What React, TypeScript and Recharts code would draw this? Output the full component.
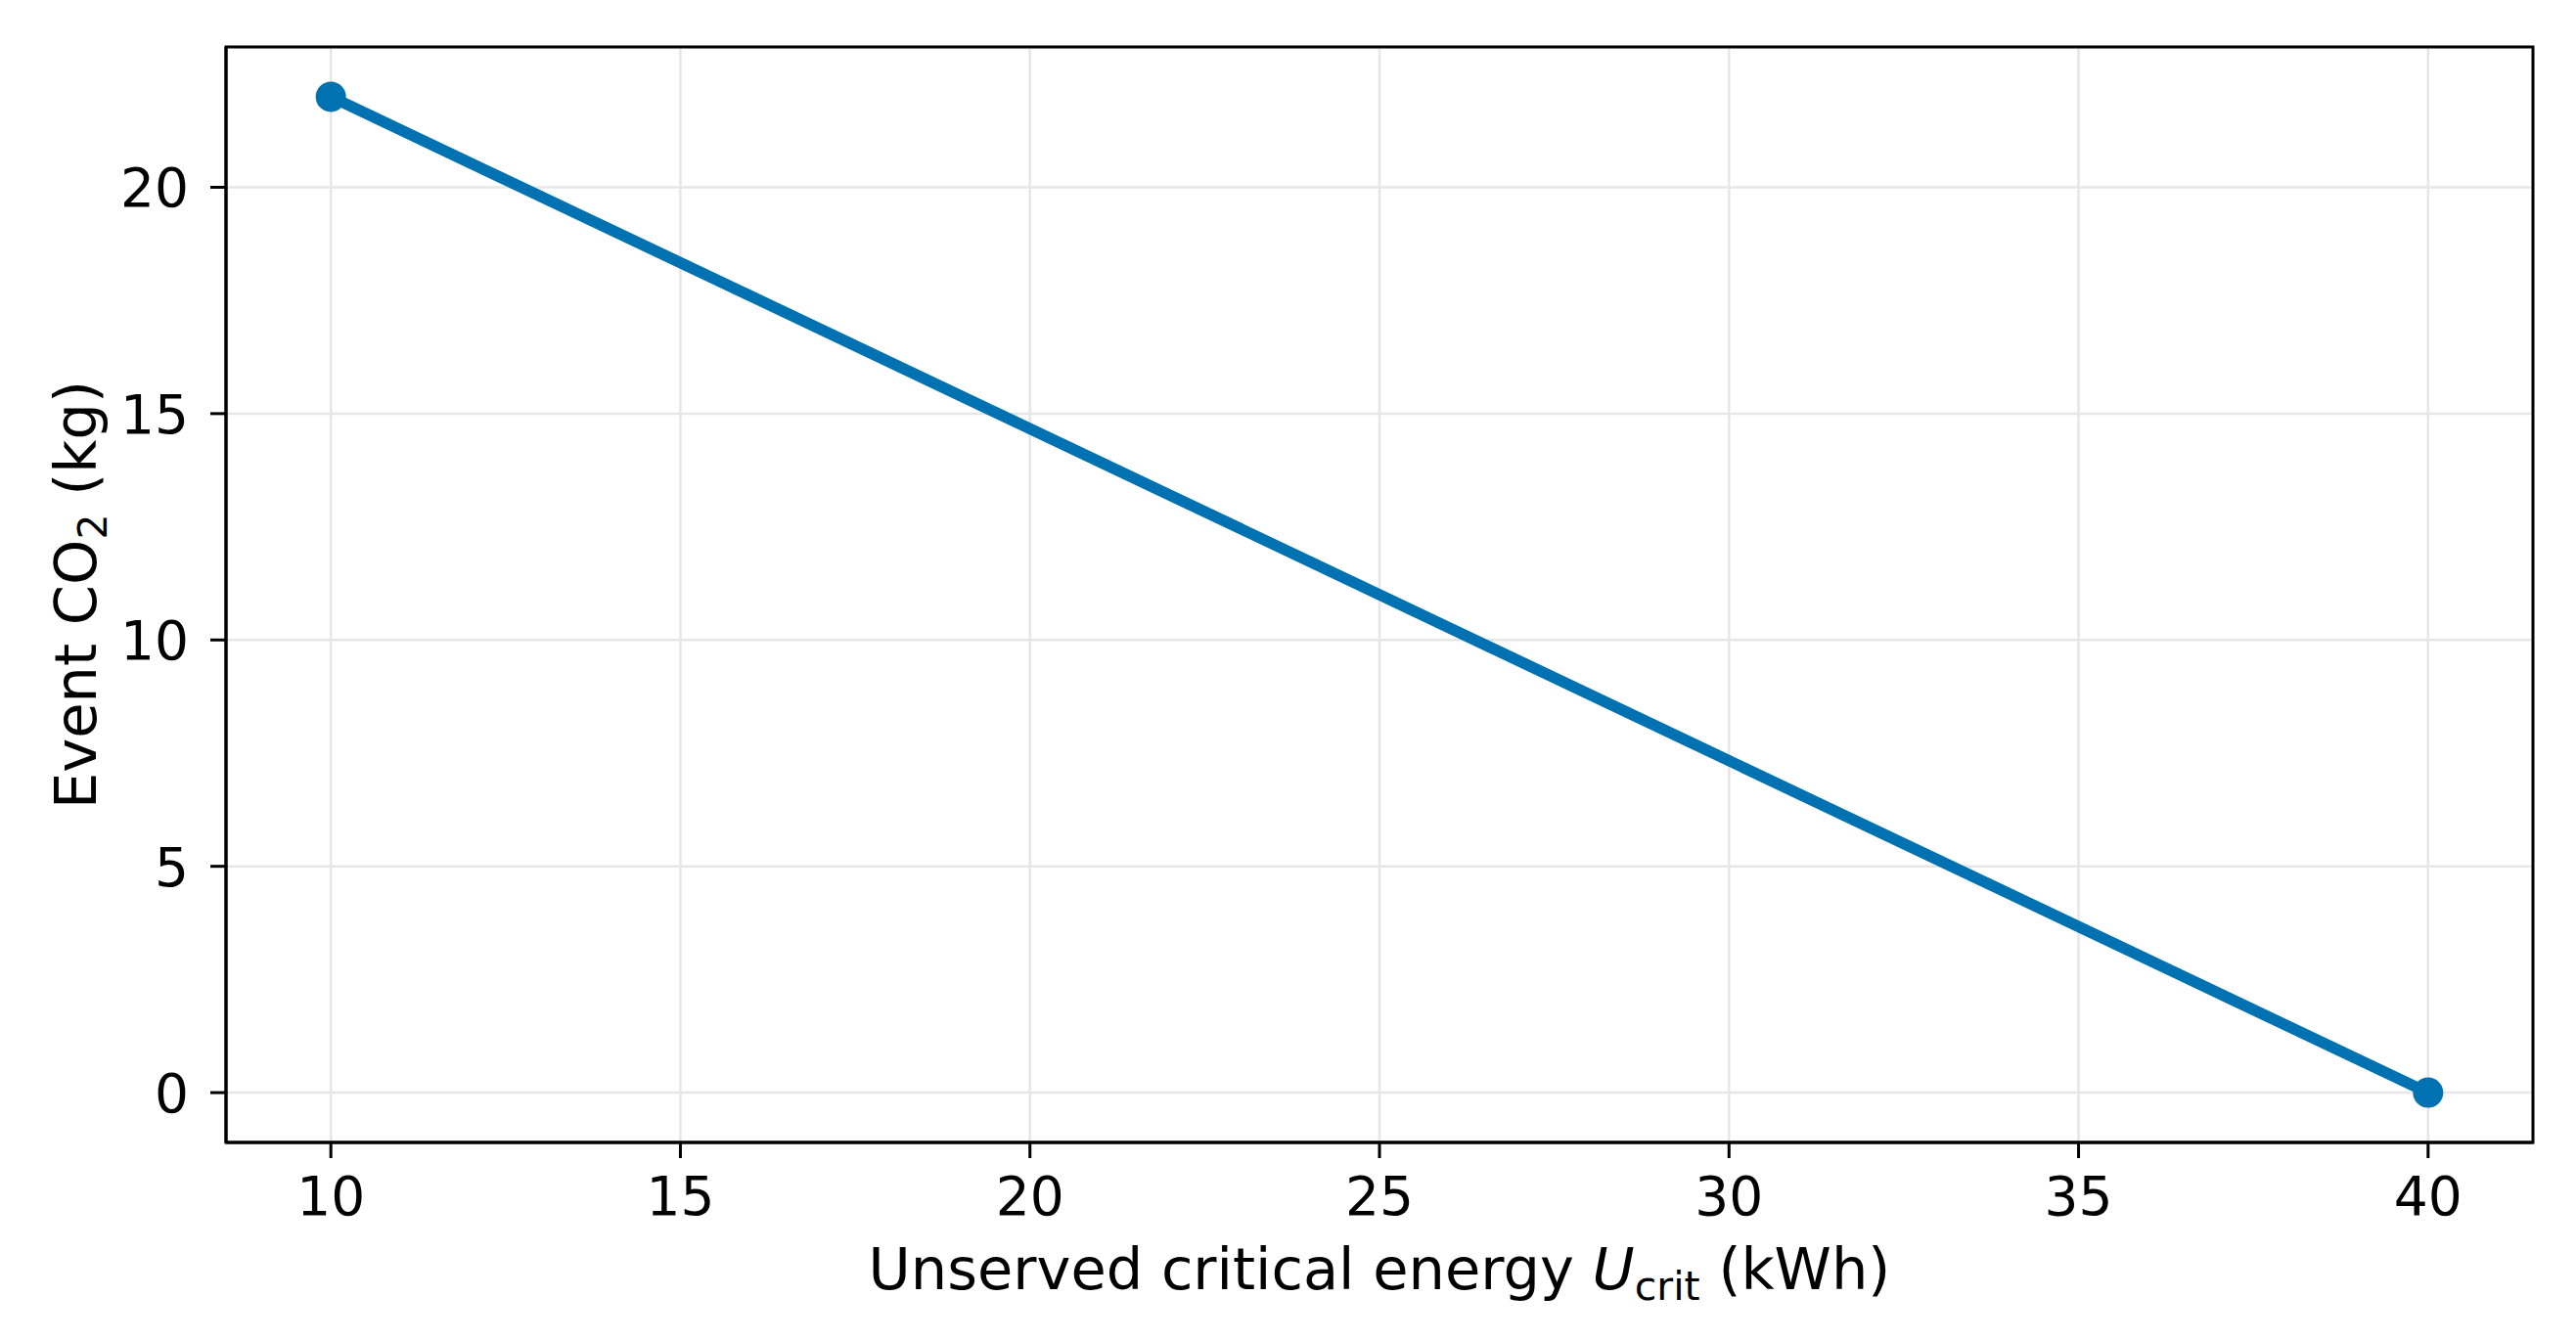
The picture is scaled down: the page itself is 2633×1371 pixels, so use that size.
import React from "react";
import {
  LineChart,
  Line,
  XAxis,
  YAxis,
  CartesianGrid,
  ReferenceArea,
} from "recharts";

const energyKwh = [10, 40];
const co2Kg = [22, 0];
const xTicks = [10, 15, 20, 25, 30, 35, 40];
const yTicks = [0, 5, 10, 15, 20];
const xDomain = [8.5, 41.5];
const yDomain = [-1.1, 23.1];

const data = energyKwh.map((e, i) => ({ energy: e, co2: co2Kg[i] }));

const FONT = "'DejaVu Sans', sans-serif";
const BLUE = "#0072B2";

function XTick({ x, y, payload }: any) {
  return (
    <text x={x} y={y} dy={58} textAnchor="middle" fontFamily={FONT} fontSize={55} fill="#000">
      {payload.value}
    </text>
  );
}

function YTick({ x, y, payload }: any) {
  return (
    <text x={x} y={y} dy={20} textAnchor="end" fontFamily={FONT} fontSize={55} fill="#000">
      {payload.value}
    </text>
  );
}

function XLabel({ viewBox }: any) {
  const cx = viewBox.x + viewBox.width / 2;
  return (
    <text x={cx} y={1318} textAnchor="middle" fontFamily={FONT} fontSize={59} fill="#000">
      Unserved critical energy{" "}
      <tspan fontStyle="italic">U</tspan>
      <tspan dy={11} fontSize={41}>crit</tspan>
      <tspan dy={-11}> (kWh)</tspan>
    </text>
  );
}

function YLabel({ viewBox }: any) {
  const cy = viewBox.y + viewBox.height / 2;
  return (
    <text
      transform={`translate(98, ${cy}) rotate(-90)`}
      x={0}
      y={0}
      textAnchor="middle"
      fontFamily={FONT}
      fontSize={59}
      fill="#000"
    >
      Event CO
      <tspan dy={11} fontSize={41}>2</tspan>
      <tspan dy={-11}> (kg)</tspan>
    </text>
  );
}

export default function App() {
  return (
    <div style={{ position: "absolute", left: 0, top: 0, background: "#fff" }}>
      <LineChart
        width={2633}
        height={1371}
        data={data}
        margin={{ top: 48, right: 44, bottom: 0, left: 0 }}
      >
        <CartesianGrid stroke="#e6e6e6" strokeWidth={2.5} />
        <XAxis
          dataKey="energy"
          type="number"
          domain={xDomain}
          ticks={xTicks}
          allowDataOverflow
          height={203}
          tickSize={16}
          tickMargin={0}
          axisLine={{ stroke: "#000", strokeWidth: 3 }}
          tickLine={{ stroke: "#000", strokeWidth: 3 }}
          tick={<XTick />}
          label={<XLabel />}
        />
        <YAxis
          dataKey="co2"
          type="number"
          domain={yDomain}
          ticks={yTicks}
          allowDataOverflow
          width={231}
          tickSize={16}
          tickMargin={22}
          axisLine={{ stroke: "#000", strokeWidth: 3 }}
          tickLine={{ stroke: "#000", strokeWidth: 3 }}
          tick={<YTick />}
          label={<YLabel />}
        />
        <ReferenceArea
          x1={xDomain[0]}
          x2={xDomain[1]}
          y1={yDomain[0]}
          y2={yDomain[1]}
          fill="none"
          stroke="#000"
          strokeWidth={3}
          fillOpacity={0}
        />
        <Line
          type="linear"
          dataKey="co2"
          stroke={BLUE}
          strokeWidth={11.5}
          dot={{ r: 15.5, fill: BLUE, stroke: "none" }}
          activeDot={false}
          isAnimationActive={false}
        />
      </LineChart>
    </div>
  );
}
